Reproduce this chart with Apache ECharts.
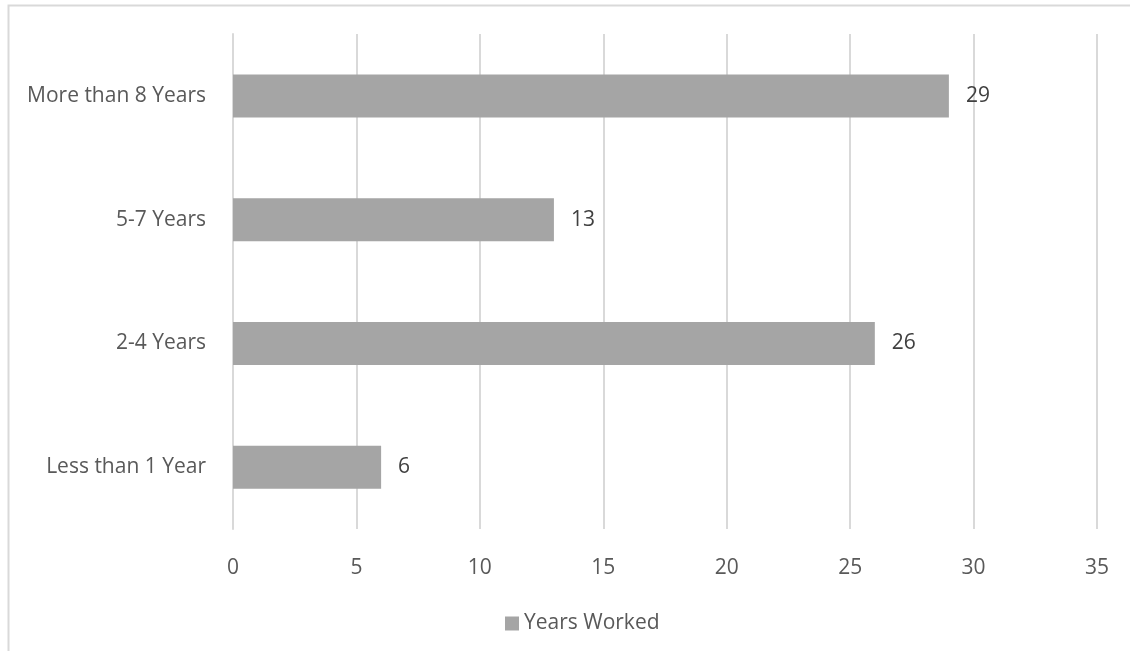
<!DOCTYPE html>
<html>
<head>
    <meta charset="UTF-8">
    <title>Years Worked</title>
    <script src="https://cdn.jsdelivr.net/npm/echarts@6/dist/echarts.min.js"></script>
    <style>
        html, body { margin: 0; padding: 0; background: #fff; }
        #chart { width: 1130px; height: 651px; }
    </style>
</head>
<body>
	<div id="chart"></div>
	<script type="text/javascript">
		// data, bottom to top
		var categories = ['Less than 1 Year', '2-4 Years', '5-7 Years', 'More than 8 Years'];
		var yearsWorked = [6, 26, 13, 29];
		var seriesName = 'Years Worked';
		var xTicks = [0, 5, 10, 15, 20, 25, 30, 35];

		var textColor = '#595959';
		var fontFam = '"Open Sans", "Noto Sans", sans-serif';
		var fs = 21;

		var myChart = echarts.init(document.getElementById('chart'));
		var option = {
			animation: false,
			backgroundColor: '#fff',
			textStyle: { fontFamily: fontFam },
			graphic: [{
				type: 'rect',
				shape: { x: 8.5, y: 5.5, width: 1300, height: 1000 },
				style: { fill: 'none', stroke: '#d9d9d9', lineWidth: 2 },
				silent: true
			}],
			grid: { left: 233, right: 33, top: 34, bottom: 122 },
			legend: {
				left: 500,
				top: 608,
				itemWidth: 14,
				itemHeight: 14,
				itemGap: 5,
				icon: 'rect',
				textStyle: { color: textColor, fontSize: fs, fontFamily: fontFam },
				data: [seriesName]
			},
			xAxis: {
				type: 'value',
				min: xTicks[0],
				max: xTicks[xTicks.length - 1],
				interval: 5,
				axisLine: { show: false },
				axisTick: { show: false },
				axisLabel: { color: textColor, fontSize: fs, margin: 29 },
				splitLine: { lineStyle: { color: '#d9d9d9', width: 2 } }
			},
			yAxis: {
				type: 'category',
				data: categories,
				axisLine: { show: true, lineStyle: { color: '#d9d9d9', width: 2 } },
				axisTick: { show: false },
				axisLabel: { color: textColor, fontSize: fs, margin: 27 }
			},
			series: [{
				name: seriesName,
				type: 'bar',
				barWidth: 43,
				itemStyle: { color: '#a5a5a5' },
				label: {
					show: true,
					position: 'right',
					distance: 17,
					color: '#404040',
					fontSize: fs,
					fontFamily: fontFam
				},
				data: yearsWorked
			}]
		};
		myChart.setOption(option);
	</script>
</body>
</html>
